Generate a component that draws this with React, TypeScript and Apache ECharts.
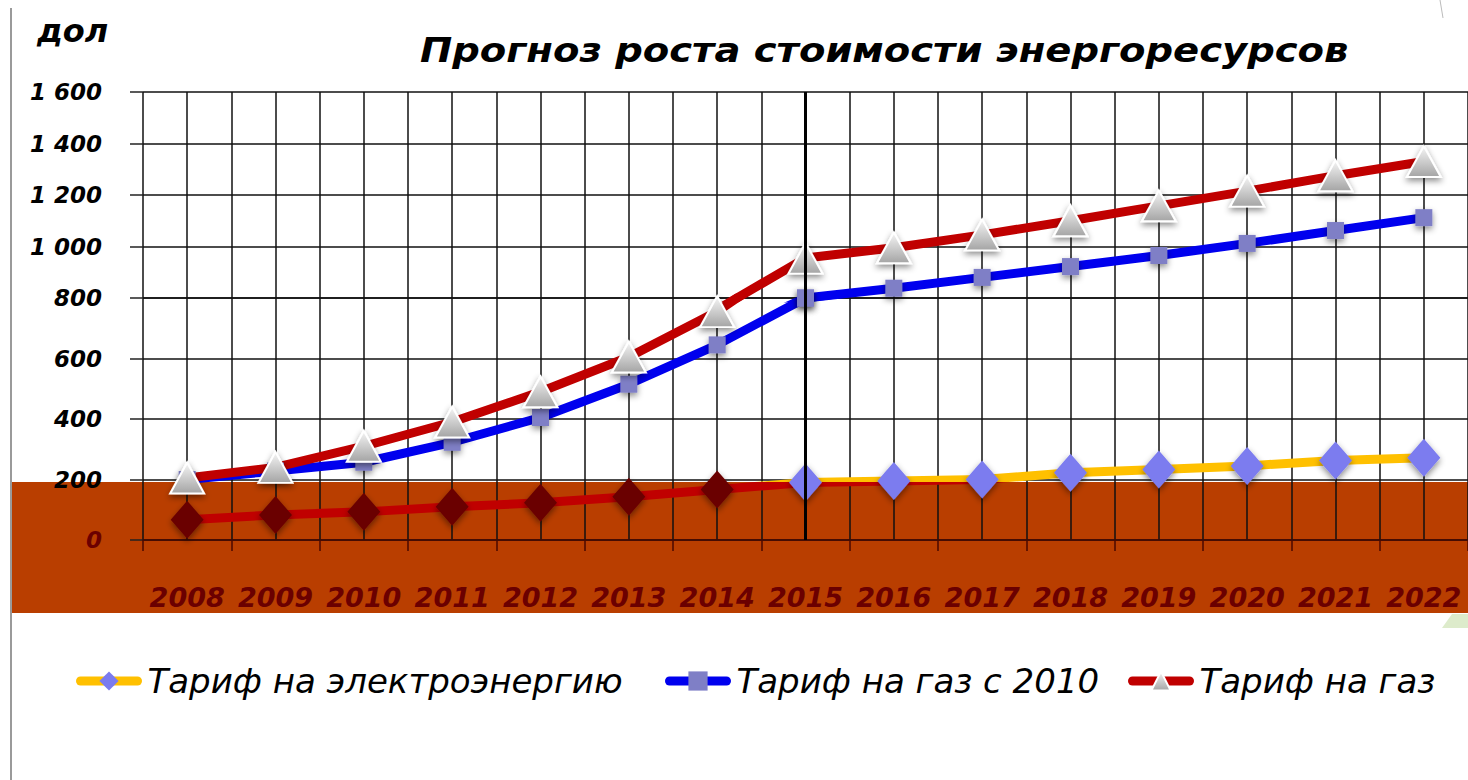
import React, { useEffect, useRef } from 'react';
import * as echarts from 'echarts';

const years = ['2008', '2009', '2010', '2011', '2012', '2013', '2014', '2015', '2016', '2017', '2018', '2019', '2020', '2021', '2022'];
const electricity = [67, 83, 93, 110, 123, 143, 167, 190, 195, 200, 222, 233, 245, 263, 272];
const gasSince2010 = [200, 228, 257, 323, 405, 515, 645, 800, 838, 880, 922, 965, 1012, 1062, 1112];
const gas = [205, 240, 310, 390, 490, 605, 755, 955, 995, 1045, 1100, 1158, 1215, 1275, 1330];
const seriesNames = ['Тариф на электроэнергию', 'Тариф на газ с 2010', 'Тариф на газ'];
const titleText = 'Прогноз роста стоимости энергоресурсов';
const unitText = 'дол';
const lowerRange = [0, 800];
const upperRange = [800, 1600];
const yStep = 200;
const markedYear = '2015';
const shadeLevel = 192;

const halfSlots = years.flatMap((y) => [y + 'a', y + 'b']);

const fmt = (v: number) =>
  v >= 1000 ? `${Math.floor(v / 1000)} ${String(v % 1000).padStart(3, '0')}` : String(v);

export default function App() {
  const ref = useRef<HTMLDivElement>(null);
  useEffect(() => {
    if (!ref.current) return;
    const chart = echarts.init(ref.current, undefined, { renderer: 'svg' });
    const font = '"DejaVu Sans", sans-serif';
    const shadow = { shadowBlur: 6, shadowColor: 'rgba(0,0,0,0.45)', shadowOffsetY: 3 };
    const triFill = () =>
      new echarts.graphic.LinearGradient(0, 0, 0, 1, [
        { offset: 0, color: '#F6F6F6' },
        { offset: 1, color: '#A4A4A4' },
      ]);
    const gridColor = '#111';
    const lineColors = ['#FFC000', '#0000EE', '#C00000'];
    const yLabel = {
      formatter: fmt,
      fontSize: 23,
      fontWeight: 'bold' as const,
      fontStyle: 'italic' as const,
      fontFamily: font,
      margin: 41,
    };
    const yCommon = () => ({
      type: 'value' as const,
      interval: yStep,
      axisLine: { show: false },
      axisTick: { show: true, length: 13, lineStyle: { color: '#222', width: 1.5 } },
      splitLine: { show: true, lineStyle: { color: gridColor, width: 1.5 } },
    });
    const helperX = (gridIndex: number) => ({
      type: 'category' as const,
      gridIndex,
      data: halfSlots,
      boundaryGap: true,
      axisLine: { show: false },
      axisTick: { show: false },
      axisLabel: { show: false },
      splitLine: { show: true, interval: 0, lineStyle: { color: gridColor, width: 1.5 } },
    });
    const mark = () => ({
      silent: true,
      symbol: ['none', 'none'],
      label: { show: false },
      lineStyle: { color: '#000', width: 3, type: 'solid' as const },
      data: [{ xAxis: markedYear }],
    });
    const gasLower = () => ({
      name: seriesNames[1], type: 'line' as const, xAxisIndex: 2, yAxisIndex: 1,
      data: gasSince2010.slice(), symbol: 'rect', symbolSize: 17,
      lineStyle: { width: 9, color: lineColors[1] },
      itemStyle: { color: '#7F7FC6', ...shadow },
    });
    const gasMain = () => ({
      name: seriesNames[2], type: 'line' as const, xAxisIndex: 2, yAxisIndex: 1,
      data: gas.slice(), symbol: 'triangle', symbolSize: [34, 31],
      lineStyle: { width: 9, color: lineColors[2] },
      itemStyle: { color: triFill(), borderColor: '#FFFFFF', borderWidth: 2, ...shadow },
    });
    chart.setOption({
      animation: false,
      backgroundColor: '#FFFFFF',
      graphic: [
        { type: 'rect', z: -10, silent: true, shape: { x: 10, y: 482, width: 1458, height: 131 }, style: { fill: '#B93E00' } },
        { type: 'line', z: -10, silent: true, shape: { x1: 11, y1: 8, x2: 11, y2: 780 }, style: { stroke: '#9A9A9A', lineWidth: 2 } },
        { type: 'line', z: -10, silent: true, shape: { x1: 1440, y1: 0, x2: 1443, y2: 18 }, style: { stroke: '#BBBBBB', lineWidth: 1 } },
        { type: 'polygon', z: -10, silent: true, shape: { points: [[1442, 628], [1452, 614], [1468, 614], [1468, 628]] }, style: { fill: '#DDEBCB' } },
        { type: 'text', x: 420, y: 50, scaleX: 1.167, style: { text: titleText, font: `italic bold 33px ${font}`, fill: '#000', verticalAlign: 'middle', align: 'left' } },
        { type: 'text', x: 37, y: 31, style: { text: unitText, font: `italic bold 32px ${font}`, fill: '#000', verticalAlign: 'middle', align: 'left' } },
      ],
      grid: [
        { left: 143, right: -8, top: 92, height: 206 },
        { left: 143, right: -8, top: 298, height: 242 },
      ],
      xAxis: [
        { type: 'category', gridIndex: 0, data: years, boundaryGap: true, axisLine: { show: false }, axisTick: { show: false }, axisLabel: { show: false }, splitLine: { show: false } },
        helperX(0),
        {
          type: 'category', gridIndex: 1, data: years, boundaryGap: true, z: 3,
          axisLine: { show: true, lineStyle: { color: '#4A0800', width: 1.5 } },
          axisTick: { show: true, length: 11, lineStyle: { color: '#4A0800', width: 1.5 } },
          axisLabel: { color: '#6B0000', fontSize: 27, fontWeight: 'bold', fontStyle: 'italic', fontFamily: font, margin: 44, interval: 0 },
          splitLine: { show: false },
        },
        helperX(1),
      ],
      yAxis: [
        { ...yCommon(), gridIndex: 0, min: upperRange[0], max: upperRange[1], axisLabel: { ...yLabel, color: '#000' } },
        { ...yCommon(), gridIndex: 1, min: lowerRange[0], max: lowerRange[1], axisLabel: { ...yLabel, showMaxLabel: false, color: (v: any) => (Number(v) <= 0 ? '#6B0000' : '#000') } },
      ],
      visualMap: {
        type: 'piecewise', show: false, seriesIndex: 0, dimension: 1,
        pieces: [
          { gte: lowerRange[0], lt: shadeLevel, color: '#C00000' },
          { gte: shadeLevel, lte: lowerRange[1], color: lineColors[0] },
        ],
        outOfRange: { color: lineColors[0] },
      },
      legend: [0, 1, 2].map((i) => ({
        data: [seriesNames[i]],
        left: [71, 660, 1123][i],
        top: 659,
        itemWidth: 57,
        itemHeight: 24,
        lineStyle: { width: 9, cap: 'round', color: lineColors[i] },
        textStyle: { fontSize: 34, fontStyle: 'italic', fontFamily: font, color: '#000', padding: [0, 0, 0, 5] },
      })),
      series: [
        {
          name: seriesNames[0], type: 'line', xAxisIndex: 2, yAxisIndex: 1,
          data: electricity.map((v) => ({ value: v, itemStyle: { color: v >= 185 ? '#7B7BEF' : '#6B0000' } })),
          symbol: 'diamond', symbolSize: [33, 38],
          lineStyle: { width: 9 },
          itemStyle: { color: '#7B7BEF', ...shadow },
          markLine: mark(),
        },
        gasLower(),
        gasMain(),
        { ...gasLower(), xAxisIndex: 0, yAxisIndex: 0, markLine: mark() },
        { ...gasMain(), xAxisIndex: 0, yAxisIndex: 0 },
      ],
    });
    return () => chart.dispose();
  }, []);
  return <div ref={ref} style={{ position: 'fixed', left: 0, top: 0, width: 1468, height: 780 }} />;
}
